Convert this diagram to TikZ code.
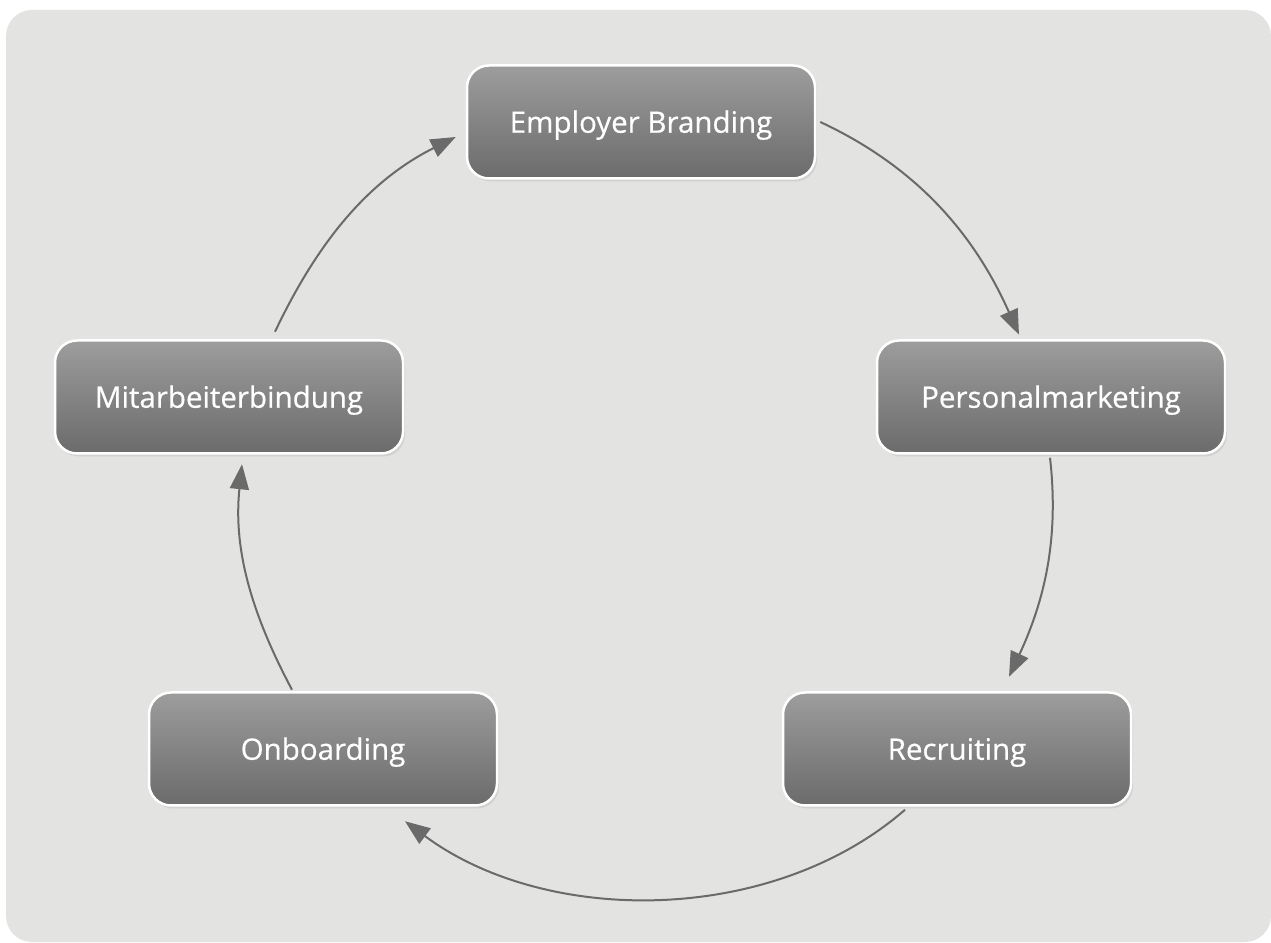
\documentclass[tikz,border=0pt]{standalone}
\usepackage{fontspec}
\setmainfont{Open Sans}
\newfontfamily\boxfont[FakeBold=0.5]{Open Sans}
\usetikzlibrary{arrows.meta,shadows}
\definecolor{bgc}{HTML}{E3E3E2}
\definecolor{boxtop}{HTML}{9D9D9D}
\definecolor{boxbot}{HTML}{6B6B6B}
\definecolor{arrc}{HTML}{6A6A6A}
\tikzset{
  stagebox/.style={rounded corners=22pt, minimum width=348pt, minimum height=113pt,
    top color=boxtop, bottom color=boxbot, draw=white, line width=2.5pt,
    text=white, font=\boxfont\fontsize{29.5}{34}\selectfont, text height=21.5pt, text depth=0pt,
    drop shadow={shadow xshift=2pt, shadow yshift=-3pt, opacity=0.18}},
  flow/.style={draw=arrc, line width=2pt, -{Triangle[length=25pt,width=19pt]}, looseness=0.95}
}
\begin{document}
\begin{tikzpicture}[x=1pt,y=1pt]
\useasboundingbox (0,0) rectangle (1271,942);
\fill[bgc, rounded corners=26pt] (6,0) rectangle (1271,932);
\node[stagebox] (eb) at (641,820) {Employer Branding};
\node[stagebox] (pm) at (1051,545) {Personalmarketing};
\node[stagebox] (rc) at (957,193) {Recruiting};
\node[stagebox] (ob) at (323,193) {Onboarding};
\node[stagebox] (mb) at (229,545) {Mitarbeiterbindung};
\draw[flow] ([xshift=4pt]eb.east) to[out=-25,in=114] ([shift={(-32pt,4.5pt)}]pm.north);
\draw[flow] ([shift={(-1pt,-3pt)}]pm.south) to[out=-83.5,in=65] ([shift={(52pt,14.5pt)}]rc.north);
\draw[flow, looseness=0.9] ([shift={(-52pt,-3pt)}]rc.south) to[out=-139,in=-36.6] ([shift={(82pt,-14.5pt)}]ob.south);
\draw[flow] ([shift={(-31pt,1.5pt)}]ob.north) to[out=118,in=-96] ([shift={(13pt,-9.5pt)}]mb.south);
\draw[flow] ([shift={(46pt,7.5pt)}]mb.north) to[out=64.6,in=-153.4] ([shift={(-10pt,-15pt)}]eb.west);
\end{tikzpicture}
\end{document}
